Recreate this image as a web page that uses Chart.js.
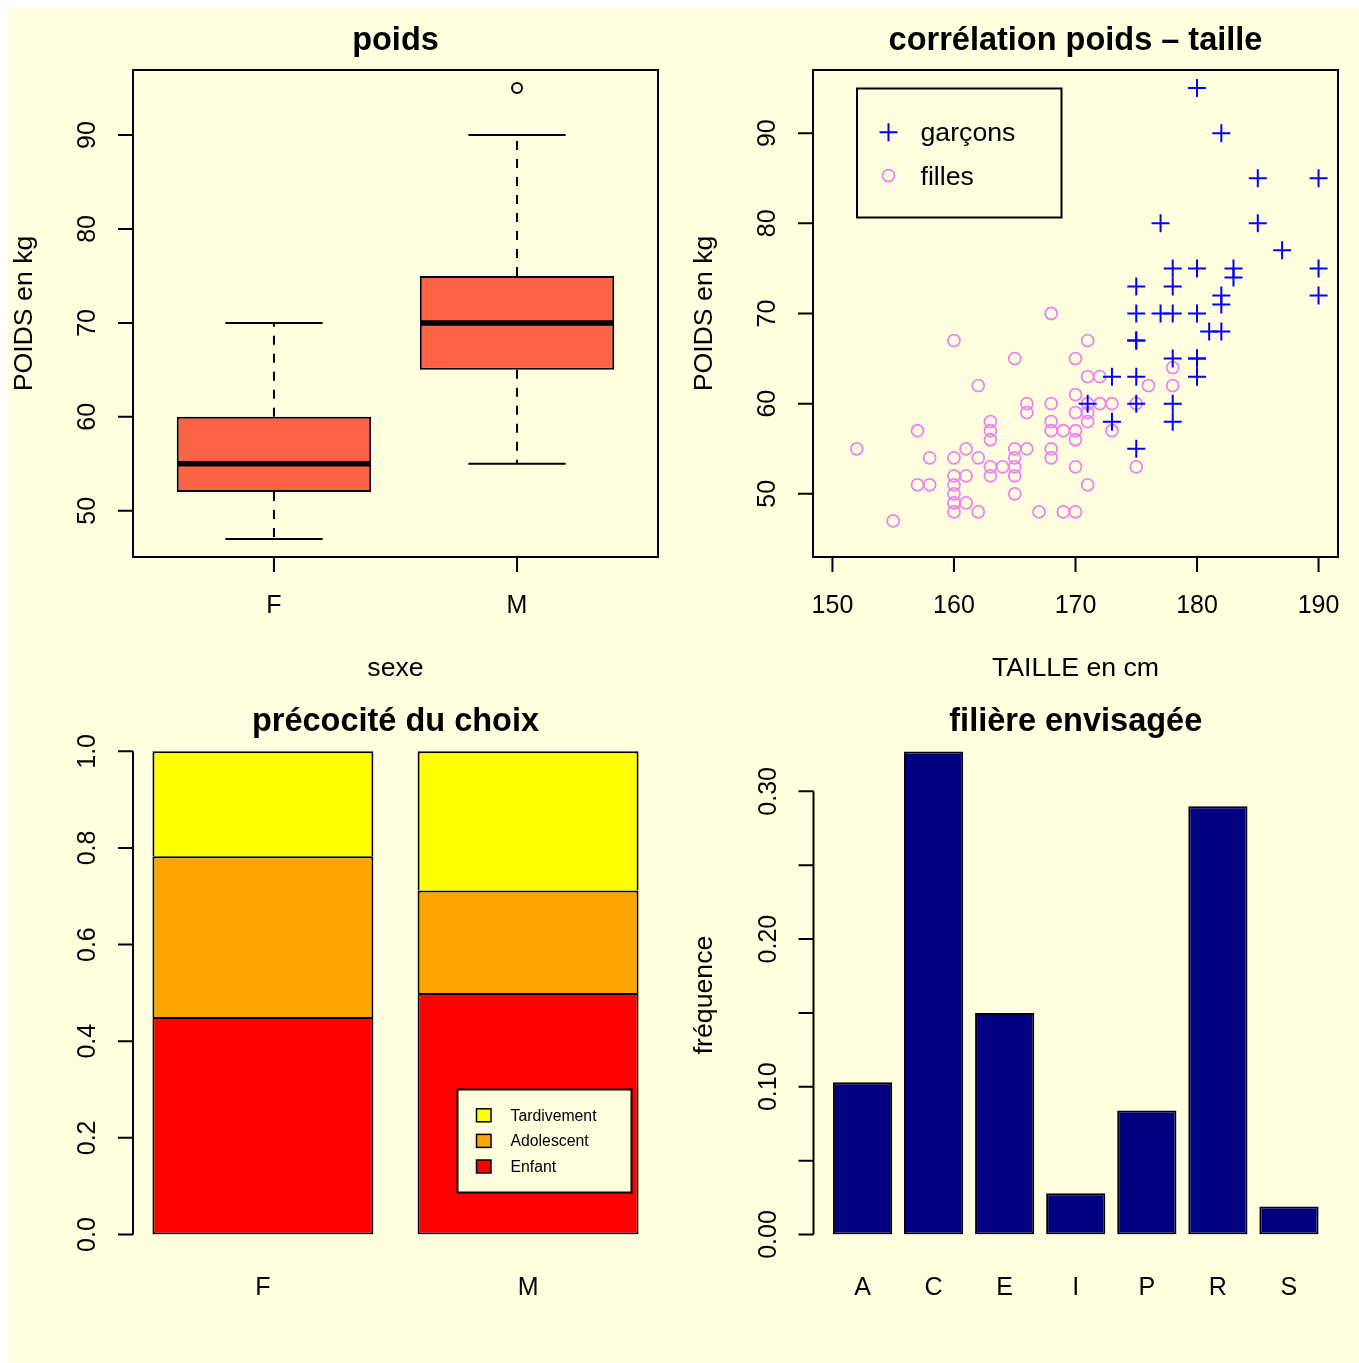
<!DOCTYPE html>
<html>
<head>
<meta charset="utf-8">
<title>poids, taille et orientation</title>
<script src="https://cdn.jsdelivr.net/npm/chart.js@4.4.1/dist/chart.umd.min.js"></script>
<style>
  body { margin: 0; background: #ffffff; overflow: hidden; }
  #fond { position: absolute; left: 8px; top: 8px; width: 1351px; height: 1355px; background: #FFFFE0; }
  canvas { position: absolute; left: 0; top: 0; pointer-events: none; }
</style>
</head>
<body>
<div id="fond"></div>
<canvas id="c1" width="1359" height="1363"></canvas>
<canvas id="c2" width="1359" height="1363"></canvas>
<canvas id="c3" width="1359" height="1363"></canvas>
<canvas id="c4" width="1359" height="1363"></canvas>
<script>
// --- poids par sexe (boxplot) ---
const sexes = ['F', 'M'];
const moustacheBas = [47, 55];
const quartileBas = [52, 65];
const mediane = [55, 70];
const quartileHaut = [60, 75];
const moustacheHaut = [70, 90];
const atypiques = [[], [95]];
const poidsTicks = [50, 60, 70, 80, 90];

// --- poids / taille ---
const tailleGarcons = [180, 182, 185, 190, 177, 185, 187, 178, 180, 183,
                       183, 190, 175, 178, 182, 182, 190, 175, 177, 178,
                       180, 181, 182, 175, 175, 178, 180, 180, 173, 175,
                       180, 171, 175, 178, 173, 178, 175];
const poidsGarcons = [95, 90, 85, 85, 80, 80, 77, 75, 75, 75,
                      74, 75, 73, 73, 72, 71, 72, 70, 70, 70,
                      70, 68, 68, 67, 67, 65, 65, 65, 63, 63,
                      63, 60, 60, 60, 58, 58, 55];
const tailleFilles = [168, 160, 171, 165, 170, 162, 171, 172, 170, 166,
                      166, 168, 171, 172, 173, 175, 170, 171, 171, 163,
                      163, 163, 168, 168, 169, 170, 170, 157, 152, 161,
                      165, 165, 165, 165, 166, 168, 168, 158, 160, 162,
                      163, 163, 164, 170, 160, 160, 160, 160, 160, 161,
                      161, 157, 158, 165, 171, 162, 167, 169, 170, 155,
                      176, 178, 178, 173, 175];
const poidsFilles = [70, 67, 67, 65, 65, 62, 63, 63, 61, 60,
                     59, 60, 60, 60, 60, 60, 59, 59, 58, 58,
                     57, 56, 58, 57, 57, 57, 56, 57, 55, 55,
                     55, 54, 53, 52, 55, 55, 54, 54, 54, 54,
                     53, 52, 53, 53, 52, 51, 50, 49, 48, 52,
                     49, 51, 51, 50, 51, 48, 48, 48, 48, 47,
                     62, 64, 62, 57, 53];
const tailleTicks = [150, 160, 170, 180, 190];
const poidsTicks2 = [50, 60, 70, 80, 90];

// --- précocité du choix (proportions par sexe) ---
const partEnfant = [0.45, 0.50];
const partAdolescent = [0.333, 0.212];
const partTardivement = [0.217, 0.288];
const partTicks = [0, 0.2, 0.4, 0.6, 0.8, 1.0];
const partLabels = ['0.0', '0.2', '0.4', '0.6', '0.8', '1.0'];

// --- filière envisagée ---
const filieres = ['A', 'C', 'E', 'I', 'P', 'R', 'S'];
const frequences = [0.103, 0.327, 0.150, 0.028, 0.084, 0.290, 0.019];
const freqTicks = [0, 0.05, 0.10, 0.15, 0.20, 0.25, 0.30];
const freqLabels = ['0.00', '', '0.10', '', '0.20', '', '0.30'];

const W = 1359, H = 1363;
const FONT = '"Liberation Sans", Arial, Helvetica, sans-serif';
const NOIR = '#000000';
const FOND = '#FFFFE0';
const T_TITRE = 32.5, T_LAB = 26.7, T_TICK = 25;

function texte(ctx, str, x, y, size, bold, angle, align) {
  ctx.save();
  ctx.font = (bold ? 'bold ' : '') + size + 'px ' + FONT;
  ctx.fillStyle = NOIR;
  ctx.textAlign = align || 'center';
  ctx.textBaseline = 'alphabetic';
  ctx.translate(x, y);
  if (angle) ctx.rotate(angle);
  ctx.fillText(str, 0, 0);
  ctx.restore();
}

// axes, cadre et titres facon R
const axesR = {
  id: 'axesR',
  afterDraw(chart, args, o) {
    const ctx = chart.ctx, a = chart.chartArea;
    const sx = chart.scales.x, sy = chart.scales.y;
    ctx.save();
    ctx.strokeStyle = NOIR;
    ctx.lineWidth = 2;
    if (o.cadre) ctx.strokeRect(a.left, a.top, a.right - a.left, a.bottom - a.top);
    if (o.xTicks) {
      const px = o.xTicks.map(v => sx.getPixelForValue(v));
      if (o.xMarques) {
        ctx.beginPath();
        ctx.moveTo(px[0], a.bottom);
        ctx.lineTo(px[px.length - 1], a.bottom);
        px.forEach(p => { ctx.moveTo(p, a.bottom); ctx.lineTo(p, a.bottom + 15); });
        ctx.stroke();
      }
      px.forEach((p, i) => texte(ctx, o.xLabels[i], p, o.xLabelY, T_TICK, false, 0));
    }
    if (o.yTicks) {
      const py = o.yTicks.map(v => sy.getPixelForValue(v));
      ctx.beginPath();
      ctx.moveTo(a.left, py[0]);
      ctx.lineTo(a.left, py[py.length - 1]);
      py.forEach(p => { ctx.moveTo(a.left, p); ctx.lineTo(a.left - 15, p); });
      ctx.stroke();
      py.forEach((p, i) => {
        if (o.yLabels[i]) texte(ctx, o.yLabels[i], a.left - 38, p, T_TICK, false, -Math.PI / 2);
      });
    }
    if (o.titre) texte(ctx, o.titre, (a.left + a.right) / 2, o.titreY, T_TITRE, true, 0);
    if (o.xTitre) texte(ctx, o.xTitre, (a.left + a.right) / 2, a.bottom + 119, T_LAB, false, 0);
    if (o.yTitre) texte(ctx, o.yTitre, a.left - 101.5, (a.top + a.bottom) / 2 + (o.yTitreDy || 0), T_LAB, false, -Math.PI / 2);
    ctx.restore();
  }
};

// moustaches et medianes du boxplot
const moustaches = {
  id: 'moustaches',
  afterDatasetsDraw(chart) {
    const ctx = chart.ctx, sy = chart.scales.y;
    const y = v => sy.getPixelForValue(v);
    ctx.save();
    ctx.strokeStyle = NOIR;
    chart.getDatasetMeta(0).data.forEach((b, i) => {
      const x = b.x, w = b.width;
      ctx.lineWidth = 2;
      ctx.setLineDash([9, 9]);
      ctx.beginPath();
      ctx.moveTo(x, y(quartileHaut[i])); ctx.lineTo(x, y(moustacheHaut[i]));
      ctx.moveTo(x, y(quartileBas[i])); ctx.lineTo(x, y(moustacheBas[i]));
      ctx.stroke();
      ctx.setLineDash([]);
      ctx.beginPath();
      [moustacheHaut[i], moustacheBas[i]].forEach(v => {
        ctx.moveTo(x - w / 4, y(v)); ctx.lineTo(x + w / 4, y(v));
      });
      ctx.stroke();
      ctx.lineWidth = 5.5;
      ctx.beginPath();
      ctx.moveTo(x - w / 2 + 1, y(mediane[i])); ctx.lineTo(x + w / 2 - 1, y(mediane[i]));
      ctx.stroke();
    });
    ctx.restore();
  }
};

// legende du nuage de points
const legendeNuage = {
  id: 'legendeNuage',
  afterDraw(chart) {
    const ctx = chart.ctx;
    ctx.save();
    ctx.strokeStyle = NOIR;
    ctx.lineWidth = 2;
    ctx.strokeRect(857, 88.5, 204.5, 129);
    chart.data.datasets.forEach((d, i) => {
      const xc = 888.5, yc = 132.3 + i * 43.4;
      ctx.strokeStyle = d.pointBorderColor;
      ctx.lineWidth = d.pointBorderWidth;
      ctx.beginPath();
      if (d.pointStyle === 'cross') {
        ctx.moveTo(xc - d.pointRadius, yc); ctx.lineTo(xc + d.pointRadius, yc);
        ctx.moveTo(xc, yc - d.pointRadius); ctx.lineTo(xc, yc + d.pointRadius);
      } else {
        ctx.arc(xc, yc, d.pointRadius, 0, Math.PI * 2);
      }
      ctx.stroke();
      texte(ctx, d.label, 920.5, yc + 9, T_LAB, false, 0, 'left');
    });
    ctx.restore();
  }
};

// legende des barres empilees
const legendePrecocite = {
  id: 'legendePrecocite',
  afterDraw(chart) {
    const ctx = chart.ctx;
    ctx.save();
    ctx.fillStyle = FOND;
    ctx.strokeStyle = NOIR;
    ctx.lineWidth = 2;
    ctx.fillRect(457.5, 1089.5, 174, 103);
    ctx.strokeRect(457.5, 1089.5, 174, 103);
    chart.data.datasets.slice().reverse().forEach((d, i) => {
      const yc = 1115.3 + i * 25.6;
      ctx.fillStyle = d.backgroundColor;
      ctx.fillRect(476.5, yc - 6.5, 14.5, 13);
      ctx.lineWidth = 1.5;
      ctx.strokeRect(476.5, yc - 6.5, 14.5, 13);
      texte(ctx, d.label, 510.5, yc + 5.5, 15.8, false, 0, 'left');
    });
    ctx.restore();
  }
};

function options(zone, sx, sy, axes, empile) {
  return {
    responsive: false,
    animation: false,
    devicePixelRatio: 1,
    events: [],
    layout: { padding: { left: zone.l, top: zone.t, right: W - zone.r, bottom: H - zone.b } },
    plugins: { legend: { display: false }, tooltip: { enabled: false }, axesR: axes },
    scales: {
      x: Object.assign({ type: 'linear', display: false, offset: false, stacked: !!empile }, sx),
      y: Object.assign({ type: 'linear', display: false, beginAtZero: false, stacked: !!empile }, sy)
    }
  };
}

// poids par sexe
new Chart(document.getElementById('c1'), {
  type: 'bar',
  data: {
    datasets: [{
      data: sexes.map((s, i) => ({ x: i + 1, y: [quartileBas[i], quartileHaut[i]] })),
      backgroundColor: 'tomato',
      borderColor: NOIR,
      borderWidth: 2,
      borderSkipped: false,
      categoryPercentage: 0.8,
      barPercentage: 1
    }, {
      type: 'scatter',
      data: atypiques.flatMap((vals, i) => vals.map(v => ({ x: i + 1, y: v }))),
      pointStyle: 'circle',
      pointRadius: 5,
      pointBorderWidth: 2,
      pointBorderColor: NOIR,
      pointBackgroundColor: 'rgba(0,0,0,0)'
    }]
  },
  options: options({ l: 133, t: 70, r: 658, b: 557 },
    { min: 0.42, max: 2.58, afterBuildTicks: s => { s.ticks = sexes.map((_, i) => ({ value: i + 1 })); } },
    { min: 45.08, max: 96.92 },
    {
      cadre: true, titre: 'poids', titreY: 50, xTitre: 'sexe', yTitre: 'POIDS en kg',
      xTicks: sexes.map((_, i) => i + 1), xLabels: sexes, xMarques: true, xLabelY: 613,
      yTicks: poidsTicks, yLabels: poidsTicks.map(String)
    }),
  plugins: [axesR, moustaches]
});

// correlation poids - taille
new Chart(document.getElementById('c2'), {
  type: 'scatter',
  data: {
    datasets: [{
      label: 'garçons',
      data: tailleGarcons.map((t, i) => ({ x: t, y: poidsGarcons[i] })),
      pointStyle: 'cross',
      pointRadius: 9,
      pointBorderWidth: 2,
      pointBorderColor: '#0000FF',
      pointBackgroundColor: 'rgba(0,0,0,0)'
    }, {
      label: 'filles',
      data: tailleFilles.map((t, i) => ({ x: t, y: poidsFilles[i] })),
      pointStyle: 'circle',
      pointRadius: 6,
      pointBorderWidth: 1.8,
      pointBorderColor: '#EE82EE',
      pointBackgroundColor: 'rgba(0,0,0,0)'
    }]
  },
  options: options({ l: 813, t: 70, r: 1338, b: 557 },
    { min: 148.4, max: 191.6 },
    { min: 43, max: 97 },
    {
      cadre: true, titre: 'corrélation poids – taille', titreY: 50, xTitre: 'TAILLE en cm', yTitre: 'POIDS en kg',
      xTicks: tailleTicks, xLabels: tailleTicks.map(String), xMarques: true, xLabelY: 613,
      yTicks: poidsTicks2, yLabels: poidsTicks2.map(String)
    }),
  plugins: [axesR, legendeNuage]
});

// precocite du choix
const barreCommune = { borderColor: NOIR, borderWidth: 2, categoryPercentage: 1 / 1.2, barPercentage: 1 };
const posSexe = sexes.map((_, i) => 0.7 + 1.2 * i);
new Chart(document.getElementById('c3'), {
  type: 'bar',
  data: {
    datasets: [
      Object.assign({ label: 'Enfant', data: posSexe.map((x, i) => ({ x: x, y: partEnfant[i] })),
        backgroundColor: '#FF0000', borderSkipped: false }, barreCommune),
      Object.assign({ label: 'Adolescent', data: posSexe.map((x, i) => ({ x: x, y: partAdolescent[i] })),
        backgroundColor: '#FFA500', borderSkipped: 'bottom' }, barreCommune),
      Object.assign({ label: 'Tardivement', data: posSexe.map((x, i) => ({ x: x, y: partTardivement[i] })),
        backgroundColor: '#FFFF00', borderSkipped: 'bottom' }, barreCommune)
    ]
  },
  options: options({ l: 133, t: 747.5, r: 658, b: 1234.5 },
    { min: 0.112, max: 2.488, afterBuildTicks: s => { s.ticks = posSexe.map(v => ({ value: v })); } },
    { min: 0, max: 1.008 },
    {
      cadre: false, titre: 'précocité du choix', titreY: 731,
      xTicks: posSexe, xLabels: sexes, xMarques: false, xLabelY: 1295,
      yTicks: partTicks, yLabels: partLabels
    }, true),
  plugins: [axesR, legendePrecocite]
});

// filiere envisagee
const posFiliere = filieres.map((_, i) => 0.7 + 1.2 * i);
new Chart(document.getElementById('c4'), {
  type: 'bar',
  data: {
    datasets: [Object.assign({
      label: 'fréquence',
      data: posFiliere.map((x, i) => ({ x: x, y: frequences[i] })),
      backgroundColor: '#000080',
      borderSkipped: false
    }, barreCommune)]
  },
  options: options({ l: 813.5, t: 747.5, r: 1338, b: 1234.5 },
    { min: -0.128, max: 8.728, afterBuildTicks: s => { s.ticks = posFiliere.map(v => ({ value: v })); } },
    { min: 0, max: 0.3297 },
    {
      cadre: false, titre: 'filière envisagée', titreY: 731, yTitre: 'fréquence', yTitreDy: 4,
      xTicks: posFiliere, xLabels: filieres, xMarques: false, xLabelY: 1295,
      yTicks: freqTicks, yLabels: freqLabels
    }),
  plugins: [axesR]
});
</script>
</body>
</html>
